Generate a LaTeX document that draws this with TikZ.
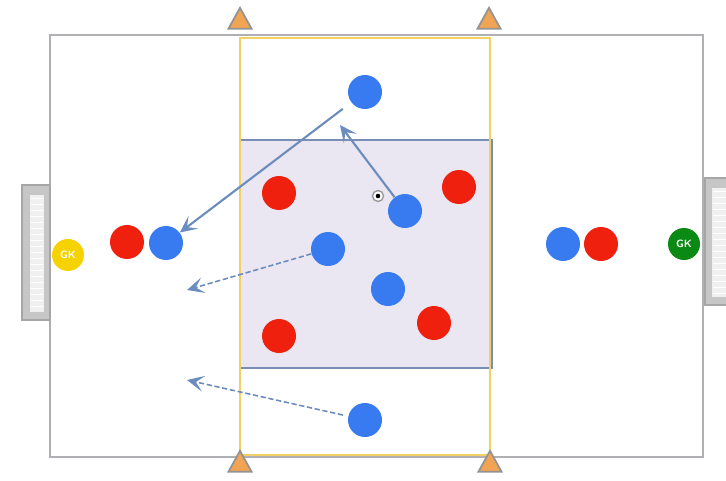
\documentclass[tikz,border=0pt]{standalone}
\usepackage{tikz}
\usetikzlibrary{arrows.meta, positioning, shapes.geometric}
\definecolor{PitchLine}{RGB}{176,176,180}
\definecolor{ZoneYellow}{RGB}{242,208,100}
\definecolor{BoxFill}{RGB}{234,231,242}
\definecolor{BoxLine}{RGB}{120,142,180}
\definecolor{TeamRed}{RGB}{240,32,14}
\definecolor{TeamBlue}{RGB}{56,122,240}
\definecolor{KeeperYellow}{RGB}{246,210,0}
\definecolor{KeeperGreen}{RGB}{10,138,20}
\definecolor{ConeOrange}{RGB}{240,164,84}
\definecolor{RunBlue}{RGB}{108,140,190}

\begin{document}
\begin{tikzpicture}[
    x=0.02cm, y=-0.02cm,
    red/.style={circle, fill=TeamRed, minimum size=0.68cm, inner sep=0pt},
    blue/.style={circle, fill=TeamBlue, minimum size=0.68cm, inner sep=0pt},
    keeper/.style={circle, minimum size=0.64cm, inner sep=0pt, text=white,
                   font=\sffamily\bfseries\fontsize{6}{6}\selectfont},
    cone/.style={isosceles triangle, isosceles triangle apex angle=58, shape border rotate=90,
                 draw=gray!85, fill=ConeOrange, line width=1pt, minimum height=0.42cm, inner sep=0pt},
    goal/.style={draw=gray!70, fill=gray!45, line width=0.6pt},
    run/.style={-{Stealth[length=3.4mm, width=3.2mm, inset=1.6mm]}, RunBlue, line width=1.2pt},
    pass/.style={run, dashed, dash pattern=on 3pt off 1.5pt, line width=0.9pt}
]
\useasboundingbox (0,0) rectangle (726,480);

% pitch and zones
\draw[PitchLine, line width=0.8pt] (50,35) rectangle (703,457);
\draw[BoxLine, fill=BoxFill, line width=1.1pt] (240,140) rectangle (492,368);
\draw[ZoneYellow, line width=1.5pt] (240,38) rectangle (490,455);

% goals
\draw[goal] (22,185) rectangle (50,320);
\fill[gray!12] (30,195) rectangle (44,312);
\foreach \gy in {198,204,...,310} \draw[white, line width=0.5pt] (31,\gy) -- (43,\gy);
\draw[goal] (705,178) rectangle (730,305);
\fill[gray!12] (712,188) rectangle (730,297);
\foreach \gy in {191,197,...,295} \draw[white, line width=0.5pt] (713,\gy) -- (730,\gy);

% cones
\node[cone] (coneTL) at (240,22) {};
\node[cone] (coneTR) at (489,22) {};
\node[cone] (coneBL) at (240,465) {};
\node[cone] (coneBR) at (490,465) {};

% keepers
\node[keeper, fill=KeeperYellow] (gkL) at (68,255) {GK};
\node[keeper, fill=KeeperGreen]  (gkR) at (684,244) {GK};

% red team
\node[red] (r1) at (127,242) {};
\node[red] (r2) at (279,193) {};
\node[red] (r3) at (459,187) {};
\node[red] (r4) at (279,336) {};
\node[red] (r5) at (434,323) {};
\node[red] (r6) at (601,244) {};

% blue team
\node[blue] (bTop)   at (365,92)  {};
\node[blue] (bLeft)  at (166,243) {};
\node[blue] (bBall)  at (405,211) {};
\node[blue] (bMid)   at (328,249) {};
\node[blue] (bLow)   at (388,289) {};
\node[blue] (bBot)   at (365,420) {};
\node[blue] (bRight) at (563,244) {};

% ball
\node[circle, draw=gray!80, fill=white, line width=0.8pt, minimum size=0.22cm, inner sep=0pt] (ball) at (378,196) {};
\fill[black] (ball) circle (1.3pt);

% movements
\coordinate (runEnd)   at (340,125);
\coordinate (passMid)  at (187,290);
\coordinate (passLow)  at (187,380);
\draw[run, shorten <=6pt]  (bTop)  -- (bLeft);
\draw[run]  (bBall) -- (runEnd);
\draw[pass] (bMid)  -- (passMid);
\draw[pass, shorten <=3pt] (bBot)  -- (passLow);
\end{tikzpicture}
\end{document}
